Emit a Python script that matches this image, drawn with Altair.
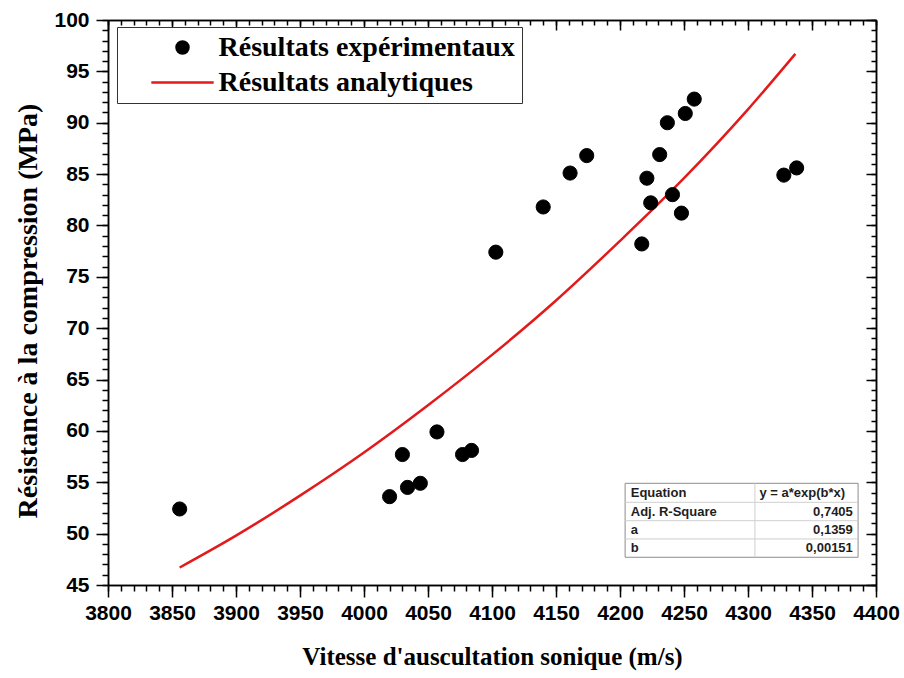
import altair as alt
import pandas as pd

# ---------------- data ----------------
exp_x = [3856, 4020, 4030, 4034, 4044, 4057, 4077, 4084, 4103, 4140, 4161, 4174,
         4217, 4221, 4224, 4231, 4237, 4241, 4248, 4251, 4258, 4328, 4338]
exp_y = [52.4, 53.6, 57.7, 54.5, 54.9, 59.9, 57.7, 58.1, 77.4, 81.8, 85.1, 86.8,
         78.2, 84.6, 82.2, 86.9, 90.0, 83.0, 81.2, 90.9, 92.3, 84.9, 85.6]

fit_x = [3856, 3900, 3950, 4000, 4050, 4100, 4150, 4200, 4250, 4300, 4337]
fit_y = [46.7, 49.8, 53.7, 57.9, 62.5, 67.4, 72.7, 78.5, 84.6, 91.3, 96.7]

series = ["Résultats expérimentaux", "Résultats analytiques"]

table_rows = ["Equation", "Adj. R-Square", "a", "b"]
table_values = ["y = a*exp(b*x)", "0,7405", "0,1359", "0,00151"]

x_ticks = list(range(3800, 4401, 50))
x_minor = list(range(3800, 4401, 10))
y_ticks = list(range(45, 101, 5))
y_minor = list(range(45, 101, 1))

x_title = "Vitesse d'auscultation sonique (m/s)"
y_title = "Résistance à la compression (MPa)"

# ---------------- layout / positions (kept apart from the data) ----------------
W, H = 768, 565
PAD = {"left": 108, "top": 20, "right": 28, "bottom": 93}
RED = "#e31a1c"

# table position in data units
tab_x = [4204, 4386]
tab_y = [54.9, 47.7]
tab_col_x = 4305.4
tab_line_y = [53.05, 51.26, 49.48]
tab_row_y = [53.98, 52.15, 50.37, 48.58]
tab_text_left = 4208.4
tab_value_right = 4381.9
tab_header_left = 4308.9

pts = pd.DataFrame({"x": exp_x, "y": exp_y, "series": series[0]})
fit = pd.DataFrame({"x": fit_x, "y": fit_y})

xs = alt.Scale(domain=[3800, 4400], nice=False, zero=False)
ys = alt.Scale(domain=[45, 100], nice=False, zero=False)

base_axis = dict(grid=False, domainColor="black", domainWidth=1.5,
                 tickColor="black", tickWidth=1.5)

x_major = alt.Axis(orient="bottom", values=x_ticks, tickSize=12, format="d",
                   labelFont="Liberation Sans", labelFontWeight="bold",
                   labelFontSize=21, labelColor="black", labelPadding=5,
                   labelOverlap=False, labelFlush=False,
                   title=x_title, titleFont="Liberation Serif", titleFontSize=25,
                   titleFontWeight="bold", titleColor="black", titlePadding=21,
                   **base_axis)
y_major = alt.Axis(orient="left", values=y_ticks, tickSize=12, format="d",
                   labelFont="Liberation Sans", labelFontWeight="bold",
                   labelFontSize=21, labelColor="black", labelPadding=7,
                   labelOverlap=False, labelFlush=False,
                   title=y_title, titleFont="Liberation Serif", titleFontSize=28,
                   titleFontWeight="bold", titleColor="black", titlePadding=11,
                   titleY=H / 2 + 8,
                   **base_axis)
x_min_ax = alt.Axis(orient="bottom", values=x_minor, tickSize=6, labels=False,
                    title=None, **base_axis)
y_min_ax = alt.Axis(orient="left", values=y_minor, tickSize=6, labels=False,
                    title=None, **base_axis)
# top / right frame axes with ticks pointing inward
x_top_major = alt.Axis(orient="bottom", offset=-H, values=x_ticks, tickSize=10,
                       labels=False, title=None, **base_axis)
y_right_major = alt.Axis(orient="left", offset=-W, values=y_ticks, tickSize=10,
                         labels=False, title=None, **base_axis)
x_top_minor = alt.Axis(orient="bottom", offset=-H, values=x_minor, tickSize=5,
                       labels=False, title=None, **base_axis)
y_right_minor = alt.Axis(orient="left", offset=-W, values=y_minor, tickSize=5,
                         labels=False, title=None, **base_axis)

legend = alt.Legend(title=None, orient="none", legendX=9, legendY=7,
                    direction="vertical", labelFont="Liberation Serif",
                    labelFontSize=28, labelFontWeight="bold", labelColor="black",
                    labelLimit=600, strokeColor="#333333", fillColor="white",
                    padding=6.5, rowPadding=7, symbolSize=144,
                    symbolStrokeWidth=2.5, symbolOffset=45, labelOffset=22,
                    labelExpr="datum.label + '\u00a0\u00a0\u00a0'")

fill_scale = alt.Scale(domain=series, range=["black", RED])
shape_scale = alt.Scale(domain=series, range=["circle", "M-5.2,0L5.2,0"])

points = alt.Chart(pts).mark_point(filled=True, size=200, strokeWidth=1, opacity=1).encode(
    x=alt.X("x:Q", scale=xs, axis=x_major),
    y=alt.Y("y:Q", scale=ys, axis=y_major),
    fill=alt.Fill("series:N", scale=fill_scale, legend=legend),
    stroke=alt.Stroke("series:N", scale=fill_scale, legend=legend),
    shape=alt.Shape("series:N", scale=shape_scale, legend=legend),
)

line = alt.Chart(fit).mark_line(color=RED, strokeWidth=2.5, interpolate="monotone").encode(
    x=alt.X("x:Q", scale=xs, axis=x_min_ax),
    y=alt.Y("y:Q", scale=ys, axis=y_min_ax),
)

frame_major = alt.Chart(pts).mark_point(opacity=0).encode(
    x=alt.X("x:Q", scale=xs, axis=x_top_major),
    y=alt.Y("y:Q", scale=ys, axis=y_right_major),
)
frame_minor = alt.Chart(pts).mark_point(opacity=0).encode(
    x=alt.X("x:Q", scale=xs, axis=x_top_minor),
    y=alt.Y("y:Q", scale=ys, axis=y_right_minor),
)

# ---------------- fit-statistics table ----------------
box_df = pd.DataFrame({"x1": [tab_x[0]], "x2": [tab_x[1]], "y1": [tab_y[0]], "y2": [tab_y[1]]})
box = alt.Chart(box_df).mark_rect(fill="white", stroke="#8c8c8c", strokeWidth=1).encode(
    x=alt.X("x1:Q", scale=xs, axis=None), x2="x2:Q",
    y=alt.Y("y1:Q", scale=ys, axis=None), y2="y2:Q",
)
hlines_df = pd.DataFrame({"y": tab_line_y, "x1": tab_x[0], "x2": tab_x[1]})
hlines = alt.Chart(hlines_df).mark_rule(color="#cfcfcf", strokeWidth=1).encode(
    x=alt.X("x1:Q", scale=xs, axis=None), x2="x2:Q",
    y=alt.Y("y:Q", scale=ys, axis=None),
)
vline_df = pd.DataFrame({"x": [tab_col_x], "y1": [tab_y[0]], "y2": [tab_y[1]]})
vline = alt.Chart(vline_df).mark_rule(color="#cfcfcf", strokeWidth=1).encode(
    x=alt.X("x:Q", scale=xs, axis=None),
    y=alt.Y("y1:Q", scale=ys, axis=None), y2="y2:Q",
)
tab_df = pd.DataFrame({"label": table_rows, "value": table_values, "y": tab_row_y,
                       "xl": tab_text_left, "xr": tab_value_right})
tfont = dict(font="Liberation Sans", fontSize=13, fontWeight="bold", color="#1e1e1e",
             baseline="middle")
tab_labels = alt.Chart(tab_df).mark_text(align="left", **tfont).encode(
    x=alt.X("xl:Q", scale=xs, axis=None),
    y=alt.Y("y:Q", scale=ys, axis=None),
    text="label:N",
)
tab_vals = alt.Chart(tab_df.iloc[1:]).mark_text(align="right", **tfont).encode(
    x=alt.X("xr:Q", scale=xs, axis=None),
    y=alt.Y("y:Q", scale=ys, axis=None),
    text="value:N",
)
head_df = pd.DataFrame({"value": [table_values[0]], "y": [tab_row_y[0]], "x": [tab_header_left]})
tab_head = alt.Chart(head_df).mark_text(align="left", **tfont).encode(
    x=alt.X("x:Q", scale=xs, axis=None),
    y=alt.Y("y:Q", scale=ys, axis=None),
    text="value:N",
)

chart = alt.layer(
    box, hlines, vline, tab_labels, tab_vals, tab_head,
    line, points, frame_major, frame_minor,
).resolve_axis(x="independent", y="independent").properties(
    width=W, height=H, padding=PAD, autosize=alt.AutoSizeParams(type="none"),
    background="white",
).configure_view(stroke=None)

chart.save("out.html", embed_options={"renderer": "svg", "actions": False})
